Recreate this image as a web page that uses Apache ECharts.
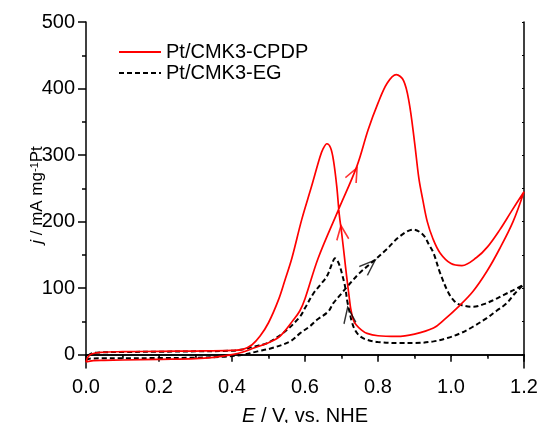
<!DOCTYPE html>
<html>
<head>
<meta charset="utf-8">
<script src="https://cdn.jsdelivr.net/npm/echarts@6/dist/echarts.min.js"></script>
<style>
html,body{margin:0;padding:0;background:#fff;}
#c{width:541px;height:423px;}
</style>
</head>
<body>
<div id="c"></div>
<script>
// ---- data (E in V vs NHE, j in mA mg^-1 Pt), traced in scan order ----
const cpdpE = [0.00,0.02,0.05,0.10,0.20,0.30,0.35,0.40,0.43,0.46,0.50,0.532,0.568,0.586,0.60,0.636,0.691,0.742,0.773,0.80,0.825,0.85,0.87,0.885,0.90,0.912,0.923,0.935,0.95,0.97,1.00,1.03,1.07,1.10,1.134,1.165,1.20,
  1.17,1.134,1.098,1.06,1.02,0.98,0.952,0.90,0.851,0.80,0.77,0.755,0.74,0.732,0.725,0.721,0.714,0.708,0.70,0.694,0.687,0.678,0.670,0.66,0.65,0.641,0.618,0.591,0.564,0.545,0.527,0.50,0.477,0.455,0.43,0.40,0.30,0.20,0.10,0.04,0.015,0.005,0.00];
const cpdpJ = [-11,-9,-8.5,-8,-7,-6,-4,0,4,10,18,28,52,66,84,145,217,283,338,378,408,421,412,380,320,265,232,200,175,153,137,134,146,162,188,215,245,
  200,160,125,95,72,52,40,31,27.5,28.5,32,37,45,53,70,87,118,147,185,210,253,292,311,317,310,297,253,203,145,112,82,48,28,15,8,6.5,5.5,5,4.5,3.5,1,-4,-11];

const egE = [0.00,0.01,0.05,0.10,0.20,0.30,0.38,0.43,0.47,0.51,0.559,0.586,0.614,0.632,0.664,0.677,0.70,0.723,0.75,0.782,0.823,0.86,0.897,0.924,0.94,0.952,0.97,0.993,1.01,1.025,1.061,1.09,1.116,1.145,1.171,1.198,
  1.175,1.152,1.125,1.098,1.06,1.025,0.99,0.952,0.90,0.86,0.80,0.769,0.75,0.737,0.728,0.723,0.716,0.71,0.703,0.696,0.688,0.682,0.675,0.66,0.642,0.623,0.60,0.586,0.55,0.52,0.495,0.458,0.43,0.40,0.30,0.20,0.10,0.04,0.015,0.005,0.00];
const egJ = [-8,-6,-5.5,-5.5,-5,-4.5,-3,0,5,10,20,32,43,52,65,77,92,107,123,138,158,178,188,180,165,153,123,93,80,75,72,76,82,90,97,105,
  92,77,66,55,42,32,25,20,17.5,17.5,19,22.5,28,37,50,62,80,102,118,132,142,145,138,118,105,92,70,57,37,25,17,12,8,6,5,4.5,4,3.5,2,-2,-8];

// scan-direction arrows: centre position and rotation (deg, ccw)
const redArrowE = [0.734, 0.701];
const redArrowJ = [271.5, 183.5];
const redArrowRot = [-26.8, 7.4];
const blkArrowE = [0.776, 0.720];
const blkArrowJ = [134, 59.5];
const blkArrowRot = [-47.4, 8];

const seriesNames = ['Pt/CMK3-CPDP', 'Pt/CMK3-EG'];
const xTicks = [0, 1.2, 0.2];
const yMajor = [0, 100, 200, 300, 400, 500];
const yMinor = [50, 150, 250, 350, 450];
const yAll = [0, 50, 100, 150, 200, 250, 300, 350, 400, 450, 500];
const yRange = [-20, 500];

const zip = (a, b) => a.map((v, i) => [v, b[i]]);
const FONT = 'Liberation Sans, Arial, sans-serif';
const chev = 'path://M0,10 L5,0 L10,10';

const chart = echarts.init(document.getElementById('c'), null, {renderer: 'canvas'});
const axLine = {show: true, lineStyle: {color: '#000', width: 1.5}};
chart.setOption({
  animation: false,
  backgroundColor: '#fff',
  textStyle: {fontFamily: FONT},
  grid: {left: 86, right: 17, top: 22, bottom: 55, containLabel: false, outerBoundsMode: 'none'},
  legend: {
    data: seriesNames,
    orient: 'vertical',
    left: 113, top: 37,
    itemWidth: 42, itemHeight: 4, itemGap: 1,
    itemStyle: {opacity: 0},
    textStyle: {fontSize: 20, color: '#000', fontFamily: FONT},
    selectedMode: false
  },
  xAxis: [{
    type: 'value', min: xTicks[0], max: xTicks[1], interval: xTicks[2], position: 'bottom',
    axisLine: axLine,
    axisTick: {show: true, inside: false, length: 7, lineStyle: {color: '#000', width: 1.5}},
    minorTick: {show: true, splitNumber: 2, length: 4, lineStyle: {color: '#000', width: 1.5}},
    splitLine: {show: false},
    axisLabel: {fontSize: 20, color: '#000', margin: 9, fontFamily: FONT, formatter: v => v.toFixed(1)},
    name: '{i|E} / V, vs. NHE', nameLocation: 'middle', nameGap: 38, nameMoveOverlap: false,
    nameTextStyle: {fontSize: 20, color: '#000', fontFamily: FONT, rich: {i: {fontSize: 20, fontStyle: 'italic', fontFamily: FONT}}}
  }, {
    type: 'value', min: xTicks[0], max: xTicks[1], interval: xTicks[2], position: 'top',
    axisLine: axLine,
    axisTick: {show: true, inside: true, length: 2, lineStyle: {color: '#000', width: 1}},
    minorTick: {show: true, splitNumber: 2, length: 2, lineStyle: {color: '#000', width: 1}},
    splitLine: {show: false}, axisLabel: {show: false}
  }],
  yAxis: [{
    type: 'value', min: yRange[0], max: yRange[1], position: 'left',
    axisLine: axLine,
    axisTick: {show: true, inside: false, length: 8, customValues: yMajor, lineStyle: {color: '#000', width: 1.5}},
    splitLine: {show: false},
    axisLabel: {fontSize: 20, color: '#000', margin: 11, fontFamily: FONT, customValues: yMajor},
    name: '{i|j} / mA mg{s|-1}Pt', nameLocation: 'middle', nameGap: 40, nameMoveOverlap: false,
    nameTextStyle: {fontSize: 17, color: '#000', fontFamily: FONT,
      rich: {i: {fontSize: 17, fontStyle: 'italic', fontFamily: FONT},
             s: {fontSize: 11, verticalAlign: 'top', fontFamily: FONT, lineHeight: 17}}}
  }, {
    type: 'value', min: yRange[0], max: yRange[1], position: 'left',
    axisLine: {show: false},
    axisTick: {show: true, inside: false, length: 4, customValues: yMinor, lineStyle: {color: '#000', width: 1.5}},
    splitLine: {show: false}, axisLabel: {show: false}
  }, {
    type: 'value', min: yRange[0], max: yRange[1], position: 'right',
    axisLine: axLine,
    axisTick: {show: true, inside: true, length: 2, customValues: yAll, lineStyle: {color: '#000', width: 1}},
    splitLine: {show: false}, axisLabel: {show: false}
  }],
  series: [{
    name: seriesNames[0], type: 'line', data: zip(cpdpE, cpdpJ),
    showSymbol: false, symbol: 'none', smooth: 0.35,
    lineStyle: {color: '#ff0000', width: 1.7}, itemStyle: {color: '#ff0000'}, silent: true, z: 3
  }, {
    name: seriesNames[1], type: 'line', data: zip(egE, egJ),
    showSymbol: false, symbol: 'none', smooth: 0.35,
    lineStyle: {color: '#000', width: 2, type: [5, 3]}, itemStyle: {color: '#000'}, silent: true, z: 2
  }, {
    type: 'scatter', silent: true, z: 4,
    data: redArrowE.map((e, i) => ({value: [e, redArrowJ[i]], symbolRotate: redArrowRot[i]})),
    symbol: chev, symbolSize: [12, 14],
    itemStyle: {color: 'rgba(0,0,0,0)', borderColor: '#ff0000', borderWidth: 1.7}
  }, {
    type: 'scatter', silent: true, z: 4,
    data: blkArrowE.map((e, i) => ({value: [e, blkArrowJ[i]], symbolRotate: blkArrowRot[i]})),
    symbol: chev, symbolSize: [12, 16],
    itemStyle: {color: 'rgba(0,0,0,0)', borderColor: '#000', borderWidth: 1.6}
  }]
});
</script>
</body>
</html>
